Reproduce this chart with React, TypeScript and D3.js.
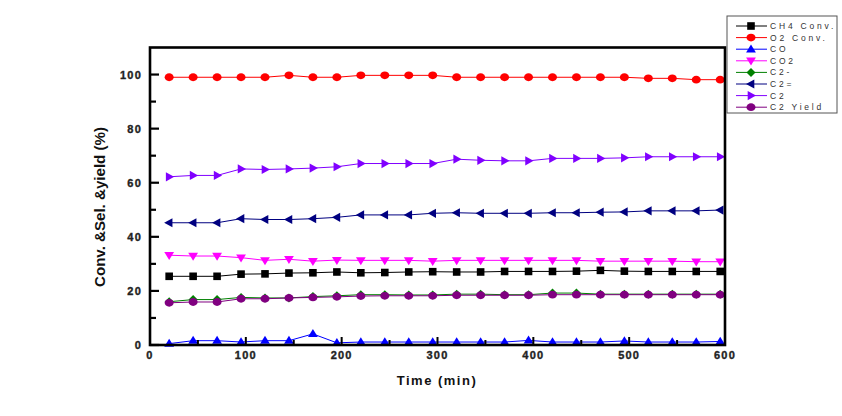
import React from "react";
import * as d3 from "d3";

const times = [20, 45, 70, 95, 120, 145, 170, 195, 220, 245, 270, 295, 320, 345, 370, 395, 420, 445, 470, 495, 520, 545, 570, 595];

const ch4Conv = [25.4, 25.4, 25.4, 26.2, 26.3, 26.6, 26.7, 27.0, 26.7, 26.8, 27.0, 27.1, 27.0, 27.0, 27.2, 27.2, 27.2, 27.3, 27.6, 27.3, 27.2, 27.2, 27.2, 27.2];
const o2Conv = [99, 99, 99, 99, 99, 99.7, 99, 99, 99.7, 99.7, 99.7, 99.7, 99, 99, 99, 99, 99, 99, 99, 99, 98.6, 98.6, 98.1, 98.1];
const co = [0.5, 1.6, 1.6, 1.1, 1.6, 1.6, 4.1, 0.8, 1.1, 1.1, 1.1, 1.1, 1.1, 1.1, 1.1, 1.7, 1.1, 1.1, 1.1, 1.5, 1.1, 1.1, 1.1, 1.3];
const co2 = [33.2, 32.9, 32.9, 32.3, 31.3, 31.7, 31.0, 31.4, 31.3, 31.3, 31.3, 31.0, 31.3, 31.3, 31.3, 31.3, 31.3, 31.3, 31.0, 31.0, 31.0, 31.0, 30.8, 30.8];
const c2Minus = [16.0, 16.8, 16.8, 17.6, 17.4, 17.4, 17.9, 18.2, 18.6, 18.6, 18.5, 18.5, 18.8, 18.8, 18.6, 18.6, 19.2, 19.2, 18.8, 18.8, 18.8, 18.8, 18.8, 18.8];
const c2Eq = [45.2, 45.2, 45.2, 46.7, 46.4, 46.4, 46.7, 47.2, 48.1, 48.1, 48.1, 48.7, 48.9, 48.7, 48.7, 48.7, 48.9, 48.9, 49.1, 49.2, 49.6, 49.6, 49.6, 49.9];
const c2 = [62.2, 62.7, 62.7, 65.1, 64.9, 65.1, 65.4, 65.9, 67.1, 67.1, 67.1, 67.1, 68.7, 68.3, 68.1, 68.1, 69.0, 69.0, 69.0, 69.2, 69.6, 69.6, 69.6, 69.6];
const c2Yield = [15.6, 15.9, 15.9, 17.1, 17.1, 17.4, 17.6, 17.8, 18.1, 18.2, 18.2, 18.2, 18.4, 18.4, 18.4, 18.4, 18.6, 18.6, 18.6, 18.6, 18.6, 18.6, 18.6, 18.6];

const seriesNames = ["CH4 Conv.", "O2 Conv.", "CO", "CO2", "C2-", "C2=", "C2", "C2 Yield"];
const seriesValues = [ch4Conv, o2Conv, co, co2, c2Minus, c2Eq, c2, c2Yield];
const seriesColors = ["#000000", "#ff0000", "#0000ff", "#ff00ff", "#008000", "#000080", "#8000ff", "#800080"];
const seriesMarkers = ["square", "circle", "triUp", "triDown", "diamond", "triLeft", "triRight", "circle"];

const xTicks = [0, 100, 200, 300, 400, 500, 600];
const xMinorTicks = [50, 150, 250, 350, 450, 550];
const yTicks = [0, 20, 40, 60, 80, 100];
const yMinorTicks = [10, 30, 50, 70, 90];

function Marker({ type, x, y, color }: { type: string; x: number; y: number; color: string }) {
  const p = (pts: number[][]) => <polygon points={pts.map((q) => `${x + q[0]},${y + q[1]}`).join(" ")} fill={color} />;
  switch (type) {
    case "square":
      return <rect x={x - 3.8} y={y - 3.8} width={7.6} height={7.6} fill={color} />;
    case "circle":
      return <ellipse cx={x} cy={y} rx={4.5} ry={3.9} fill={color} />;
    case "triUp":
      return p([[0, -4.8], [4.9, 3.2], [-4.9, 3.2]]);
    case "triDown":
      return p([[0, 4.8], [4.9, -3.2], [-4.9, -3.2]]);
    case "triLeft":
      return p([[-5, 0], [3.3, -4.6], [3.3, 4.6]]);
    case "triRight":
      return p([[5, 0], [-3.3, -4.6], [-3.3, 4.6]]);
    case "diamond":
      return p([[0, -4.5], [4.5, 0], [0, 4.5], [-4.5, 0]]);
  }
  return null;
}

export default function App() {
  const W = 842, H = 416;
  const x = d3.scaleLinear().domain([0, 600]).range([150, 725]);
  const y = d3.scaleLinear().domain([0, 110]).range([345, 47.5]);
  const line = d3.line<number>().x((_, i) => x(times[i])).y((v) => y(v));
  const x0 = x(0), x1 = x(600), y0 = y(0), y1 = y(110);
  const font = "'Liberation Sans', Arial, sans-serif";

  const legX = 727, legY = 16, legW = 110, legH = 97;
  const rowY = (i: number) => 26 + i * 11.6;

  return (
    <svg width={W} height={H} style={{ position: "absolute", left: 0, top: 0, background: "#fff" }}>
      <rect width={W} height={H} fill="#fff" />
      {/* series */}
      {seriesValues.map((vals, si) => (
        <g key={si}>
          <path d={line(vals) || ""} fill="none" stroke={seriesColors[si]} strokeWidth={1} />
          {vals.map((v, i) => (
            <Marker key={i} type={seriesMarkers[si]} x={x(times[i])} y={y(v)} color={seriesColors[si]} />
          ))}
        </g>
      ))}
      {/* frame */}
      <rect x={x0} y={y1} width={x1 - x0} height={y0 - y1} fill="none" stroke="#000" strokeWidth={2.6} />
      {/* y ticks */}
      {yTicks.map((t) => (
        <g key={t}>
          <line x1={x0} x2={x0 + 9} y1={y(t)} y2={y(t)} stroke="#000" strokeWidth={2.2} />
          <text x={142} y={y(t) + 4} textAnchor="end" fontFamily={font} fontWeight="bold" fontSize={11} letterSpacing={1.2} fill="#222" stroke="#222" strokeWidth={0.35}>
            {t}
          </text>
        </g>
      ))}
      {yMinorTicks.map((t) => (
        <line key={t} x1={x0} x2={x0 + 6} y1={y(t)} y2={y(t)} stroke="#000" strokeWidth={2.2} />
      ))}
      {/* x ticks */}
      {xTicks.map((t) => (
        <g key={t}>
          <line x1={x(t)} x2={x(t)} y1={y0} y2={y0 - 8} stroke="#000" strokeWidth={2} />
          <text x={x(t)} y={359} textAnchor="middle" fontFamily={font} fontWeight="bold" fontSize={11} letterSpacing={1.2} fill="#222" stroke="#222" strokeWidth={0.35}>
            {t}
          </text>
        </g>
      ))}
      {xMinorTicks.map((t) => (
        <line key={t} x1={x(t)} x2={x(t)} y1={y0} y2={y0 - 5} stroke="#000" strokeWidth={2} />
      ))}
      {/* axis titles */}
      <text x={437} y={385} textAnchor="middle" fontFamily={font} fontWeight="bold" fontSize={13} letterSpacing={1.5} fill="#111">
        Time (min)
      </text>
      <text
        transform={`translate(105,207) rotate(-90)`}
        textAnchor="middle"
        fontFamily={font}
        fontWeight="bold"
        fontSize={15}
        textLength={160}
        lengthAdjust="spacingAndGlyphs"
        fill="#111"
      >
        Conv. &amp;Sel. &amp;yield (%)
      </text>
      {/* legend */}
      <rect x={legX} y={legY} width={legW} height={legH} fill="#fff" stroke="#555" strokeWidth={1} />
      {seriesNames.map((n, i) => (
        <g key={n}>
          <line x1={736} x2={767} y1={rowY(i)} y2={rowY(i)} stroke={seriesColors[i]} strokeWidth={1} />
          <Marker type={seriesMarkers[i]} x={751} y={rowY(i)} color={seriesColors[i]} />
          <text x={770} y={rowY(i) + 3} fontFamily={font} fontSize={8.5} letterSpacing={2.8} fill="#333">
            {n}
          </text>
        </g>
      ))}
    </svg>
  );
}
